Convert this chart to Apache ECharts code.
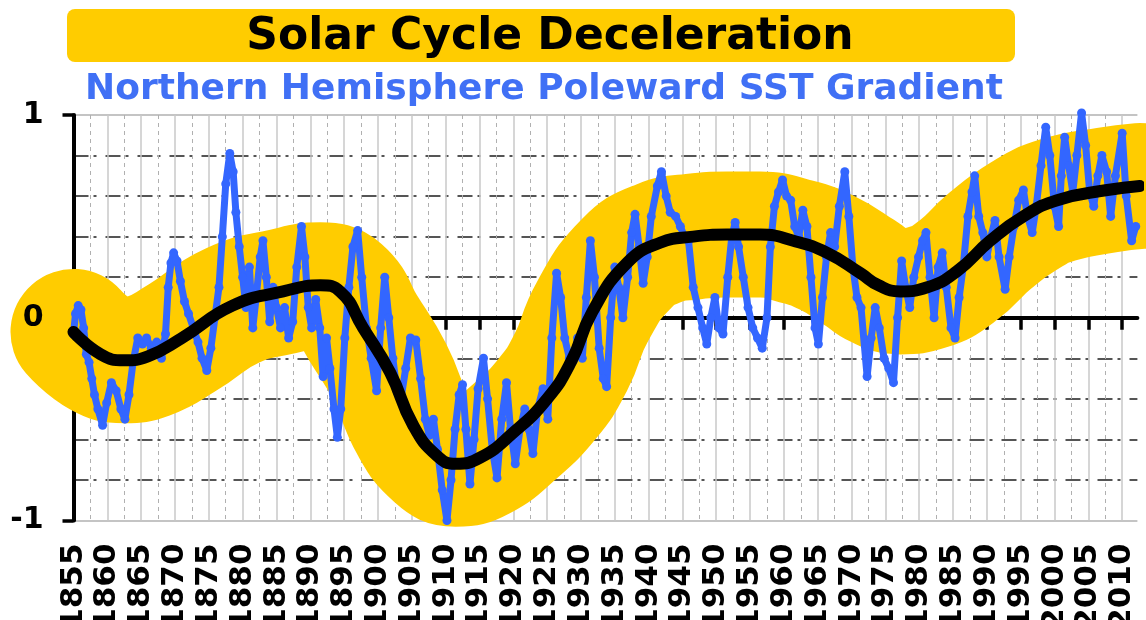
<!DOCTYPE html>
<html>
<head>
<meta charset="utf-8">
<script src="https://cdn.jsdelivr.net/npm/echarts@6/dist/echarts.min.js"></script>
<style>
html,body{margin:0;padding:0;background:#fff;}
#chart{width:1146px;height:620px;}
</style>
</head>
<body>
<div id="chart"></div>
<script>
// chart text
var titleText = 'Solar Cycle Deceleration';
var subText = 'Northern Hemisphere Poleward SST Gradient';

// x ticks every 5 years
var yearTicks = [1855,1860,1865,1870,1875,1880,1885,1890,1895,1900,1905,1910,1915,1920,1925,1930,
    1935,1940,1945,1950,1955,1960,1965,1970,1975,1980,1985,1990,1995,2000,2005,2010];

// blue SST gradient trace
var sstYears = [1855.0,1855.3,1855.7,1856.1,1856.5,1856.9,1857.3,1857.7,1858.1,1858.6,1859.3,1859.9,
    1860.6,1861.3,1862.0,1862.6,1863.2,1863.8,1864.5,1865.2,1865.8,1866.5,1867.3,1868.0,1868.6,1869.0,
    1869.4,1869.8,1870.3,1870.8,1871.4,1872.0,1872.7,1873.4,1874.0,1874.7,1875.3,1875.9,1876.5,1877.0,
    1877.5,1878.1,1878.6,1879.0,1879.5,1880.0,1880.5,1881.0,1881.5,1882.0,1882.6,1883.0,1883.5,1884.0,
    1884.5,1885.0,1885.6,1886.2,1886.8,1887.4,1888.0,1888.7,1889.2,1889.7,1890.2,1890.8,1891.4,1891.9,
    1892.4,1892.9,1893.5,1894.0,1894.5,1895.1,1895.7,1896.3,1897.0,1897.6,1898.3,1899.0,1899.8,1900.4,
    1901.0,1901.6,1902.2,1902.8,1903.4,1904.1,1904.8,1905.6,1906.3,1907.0,1907.6,1908.2,1908.8,1909.5,
    1910.2,1910.8,1911.4,1912.0,1912.5,1913.0,1913.6,1914.2,1914.8,1915.6,1916.2,1916.9,1917.6,1918.3,
    1919.0,1919.6,1920.3,1921.0,1921.7,1922.3,1922.9,1923.6,1924.4,1925.1,1925.7,1926.4,1927.0,1927.6,
    1928.3,1928.9,1929.5,1930.2,1930.8,1931.4,1932.0,1932.7,1933.3,1933.8,1934.4,1935.0,1935.6,1936.2,
    1936.9,1937.5,1938.0,1938.6,1939.2,1939.8,1940.4,1941.3,1941.9,1942.6,1943.2,1944.0,1944.7,1945.3,
    1945.9,1946.6,1947.3,1948.0,1948.6,1949.2,1949.8,1950.4,1951.0,1951.7,1952.3,1952.8,1953.3,1954.0,
    1954.7,1955.4,1956.1,1956.8,1957.5,1958.0,1958.6,1959.2,1959.8,1960.4,1961.0,1961.6,1962.2,1962.8,
    1963.4,1964.0,1964.6,1965.1,1965.7,1966.3,1966.9,1967.5,1968.2,1969.0,1969.6,1970.2,1970.8,1971.4,
    1972.3,1972.9,1973.5,1974.1,1974.8,1975.5,1976.2,1976.8,1977.4,1978.0,1978.6,1979.2,1979.9,1980.5,
    1981.0,1981.6,1982.2,1982.8,1983.4,1984.0,1984.7,1985.3,1985.9,1986.5,1987.2,1987.8,1988.2,1988.8,
    1989.4,1990.0,1990.6,1991.2,1991.8,1992.7,1993.3,1994.0,1994.7,1995.4,1996.0,1996.7,1997.3,1998.0,
    1998.7,1999.3,2000.0,2000.6,2001.0,2001.5,2002.1,2002.7,2003.3,2004.0,2004.6,2005.2,2005.8,2006.4,
    2007.0,2007.7,2008.3,2009.0,2010.0,2010.6,2011.4,2012.0];
var sstValues = [-0.08,0.02,0.06,0.04,-0.05,-0.18,-0.22,-0.30,-0.38,-0.45,-0.53,-0.42,
    -0.32,-0.36,-0.45,-0.50,-0.38,-0.22,-0.10,-0.13,-0.10,-0.15,-0.12,-0.20,-0.08,0.15,
    0.27,0.32,0.28,0.18,0.08,0.02,-0.05,-0.12,-0.20,-0.26,-0.15,0.00,0.15,0.40,
    0.66,0.81,0.72,0.52,0.35,0.20,0.05,0.25,-0.05,0.10,0.30,0.38,0.20,-0.02,
    0.15,0.05,-0.05,0.05,-0.10,-0.02,0.25,0.45,0.30,0.05,-0.05,0.09,-0.05,-0.29,
    -0.10,-0.25,-0.45,-0.59,-0.45,-0.10,0.15,0.35,0.43,0.20,-0.05,-0.20,-0.36,-0.05,
    0.20,0.00,-0.20,-0.36,-0.40,-0.25,-0.10,-0.11,-0.30,-0.50,-0.58,-0.50,-0.65,-0.85,
    -1.00,-0.80,-0.55,-0.38,-0.33,-0.55,-0.82,-0.60,-0.35,-0.20,-0.40,-0.65,-0.79,-0.50,
    -0.32,-0.55,-0.72,-0.55,-0.45,-0.55,-0.67,-0.45,-0.35,-0.50,-0.10,0.22,0.10,-0.10,
    -0.20,-0.21,-0.10,-0.20,0.10,0.38,0.20,-0.15,-0.30,-0.34,0.00,0.25,0.15,0.00,
    0.20,0.42,0.51,0.35,0.17,0.30,0.50,0.65,0.72,0.60,0.52,0.50,0.45,0.40,
    0.38,0.15,0.05,-0.05,-0.13,0.00,0.10,-0.05,-0.08,0.20,0.40,0.47,0.35,0.20,
    0.05,-0.05,-0.10,-0.15,0.00,0.35,0.55,0.62,0.68,0.60,0.58,0.45,0.40,0.53,
    0.45,0.20,-0.05,-0.13,0.10,0.30,0.42,0.35,0.55,0.72,0.50,0.25,0.10,0.05,
    -0.29,-0.10,0.05,-0.05,-0.20,-0.25,-0.32,0.00,0.28,0.15,0.05,0.20,0.30,0.38,
    0.42,0.20,0.00,0.25,0.32,0.15,-0.05,-0.10,0.10,0.25,0.50,0.62,0.70,0.50,
    0.42,0.30,0.40,0.48,0.30,0.14,0.30,0.45,0.58,0.63,0.50,0.42,0.55,0.75,
    0.94,0.80,0.55,0.45,0.70,0.89,0.75,0.62,0.80,1.01,0.85,0.62,0.55,0.70,
    0.80,0.72,0.50,0.70,0.91,0.60,0.38,0.45];

// smoothed curve (black line, yellow band follows it)
var trendYears = [1855,1859,1862.5,1866,1871,1878.5,1886,1891.5,1894.4,1897.8,1901.8,1905.2,1908.7,
    1911.5,1915.1,1919.9,1925,1928.5,1931.7,1936.8,1941.7,1946.6,1951.6,1956.5,1961.4,1966.4,1971.3,
    1974,1977.2,1981.2,1985.6,1990.5,1995.4,2000.4,2007.8,2012.6];
var trendValues = [-0.07,-0.18,-0.21,-0.19,-0.10,0.06,0.13,0.16,0.13,-0.05,-0.27,-0.53,-0.68,
    -0.72,-0.69,-0.57,-0.40,-0.22,0.03,0.27,0.37,0.40,0.41,0.41,0.38,0.32,0.22,
    0.16,0.13,0.15,0.23,0.38,0.50,0.58,0.63,0.65];

var FONT = '"DejaVu Sans", Arial, sans-serif';

function pairs(xs, ys){
    return xs.map(function(x, i){ return [x, ys[i]]; });
}

var chart = echarts.init(document.getElementById('chart'));

var option = {
    animation: false,
    backgroundColor: '#fff',
    graphic: [{
        type: 'rect',
        z: 0,
        shape: {x: 67, y: 9, width: 948, height: 53, r: 8},
        style: {fill: '#FFCC00'}
    }],
    title: [{
        text: titleText,
        left: 550,
        top: 16,
        textAlign: 'center',
        padding: 0,
        textStyle: {fontFamily: FONT, fontWeight: 'bold', fontSize: 44, color: '#000'}
    }, {
        text: subText,
        left: 544,
        top: 72,
        textAlign: 'center',
        padding: 0,
        textStyle: {fontFamily: FONT, fontWeight: 'bold', fontSize: 36, color: '#4070F5'}
    }],
    // labels run off the bottom edge in the original, keep the grid fixed
    grid: {left: 73.5, right: 8.6, top: 115, bottom: 99.5, containLabel: false, outerBoundsMode: 'none'},
    xAxis: {
        type: 'value',
        min: 1855,
        max: 2012.25,
        interval: 5,
        z: 0,
        axisLine: {lineStyle: {color: '#000', width: 4}},
        axisTick: {show: true, length: 12, customValues: yearTicks, lineStyle: {color: '#000', width: 3.5}},
        axisLabel: {
            customValues: yearTicks,
            rotate: 90,
            margin: 23,
            fontFamily: FONT,
            fontWeight: 'bold',
            fontSize: 31,
            color: '#000',
            formatter: function(v){ return v % 5 === 0 ? String(v) : ''; }
        },
        splitLine: {show: true, lineStyle: {color: '#c8c8c8', width: 1.5}},
        minorTick: {show: false, splitNumber: 2},
        minorSplitLine: {show: true, lineStyle: {color: '#b0b0b0', width: 1, type: [4, 4]}}
    },
    yAxis: [{
        type: 'value',
        min: -1,
        max: 1,
        interval: 1,
        z: 0,
        axisLine: {show: true, lineStyle: {color: '#000', width: 4}},
        axisTick: {show: true, length: 11, lineStyle: {color: '#000', width: 3.5}},
        axisLabel: {show: false},
        splitLine: {show: true, lineStyle: {color: '#c4c4c4', width: 2}},
        minorTick: {show: false, splitNumber: 5},
        minorSplitLine: {show: true, lineStyle: {color: '#555', width: 1.8, type: [15, 5, 3, 9]}}
    }, {
        // labels only, drawn above the yellow band
        type: 'value',
        min: -1,
        max: 1,
        interval: 1,
        position: 'left',
        z: 10,
        axisLine: {show: false},
        axisTick: {show: false},
        splitLine: {show: false},
        axisLabel: {margin: 30, fontFamily: FONT, fontWeight: 'bold', fontSize: 30, color: '#000'}
    }],
    series: [{
        type: 'line',
        name: 'band',
        data: pairs(trendYears, trendValues),
        smooth: true,
        showSymbol: false,
        clip: false,
        silent: true,
        z: 2,
        lineStyle: {color: '#FFCC00', width: 126, cap: 'round', join: 'round'}
    }, {
        type: 'line',
        name: 'SST gradient',
        data: pairs(sstYears, sstValues),
        symbol: 'circle',
        symbolSize: 9,
        clip: false,
        z: 3,
        itemStyle: {color: '#3366FF'},
        lineStyle: {color: '#3366FF', width: 7, join: 'round'}
    }, {
        type: 'line',
        name: 'trend',
        data: pairs(trendYears, trendValues),
        smooth: true,
        showSymbol: false,
        clip: false,
        z: 4,
        lineStyle: {color: '#000', width: 12, cap: 'round', join: 'round'}
    }]
};

chart.setOption(option);
</script>
</body>
</html>
